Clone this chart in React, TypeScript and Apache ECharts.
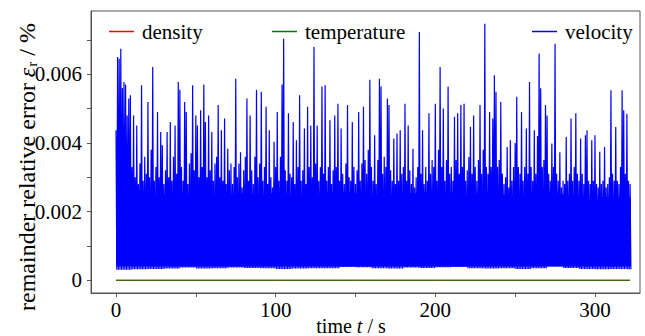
import React, { useEffect, useRef } from 'react';
import * as echarts from 'echarts';

// axis ticks / labels
const xTickValues = [0, 50, 100, 150, 200, 250, 300];
const xLabelValues = [0, 100, 200, 300];
const yTickValues = [0, 0.001, 0.002, 0.003, 0.004, 0.005, 0.006, 0.007];
const yLabelValues = [0, 0.002, 0.004, 0.006];

// velocity: per-second peak of the fluctuating signal, units of 1e-5 %
const velocityPeaks = [
  437, 650, 645, 674, 560, 577, 570, 480, 529, 539,
  330, 480, 300, 451, 280, 340, 568, 290, 360, 310,
  519, 300, 380, 621, 290, 330, 490, 300, 432, 393,
  280, 320, 432, 300, 461, 290, 360, 451, 310, 577,
  555, 330, 290, 519, 490, 280, 340, 370, 568, 320,
  480, 451, 300, 495, 330, 570, 461, 300, 480, 320,
  432, 290, 340, 360, 510, 300, 437, 290, 471, 280,
  383, 320, 340, 280, 330, 587, 300, 340, 373, 270,
  320, 360, 529, 290, 480, 320, 280, 360, 555, 300,
  340, 549, 290, 330, 505, 280, 437, 300, 270, 403,
  330, 490, 290, 360, 570, 703, 320, 290, 486, 310,
  300, 461, 280, 408, 330, 539, 290, 320, 442, 280,
  505, 330, 451, 300, 679, 340, 451, 290, 330, 564,
  310, 568, 290, 330, 466, 280, 320, 480, 330, 514,
  290, 442, 310, 280, 340, 510, 300, 290, 461, 330,
  280, 320, 490, 290, 340, 505, 350, 310, 380, 584,
  330, 290, 422, 280, 350, 587, 564, 310, 360, 330,
  529, 510, 320, 290, 413, 280, 427, 290, 437, 310,
  330, 514, 290, 451, 320, 280, 383, 270, 300, 330,
  723, 310, 437, 280, 330, 290, 486, 310, 350, 330,
  514, 290, 380, 621, 330, 500, 290, 350, 564, 310,
  330, 290, 476, 350, 486, 310, 510, 330, 514, 290,
  320, 359, 447, 310, 480, 330, 290, 350, 510, 310,
  380, 747, 330, 310, 490, 330, 471, 597, 549, 330,
  350, 519, 310, 280, 300, 388, 270, 408, 290, 330,
  400, 534, 330, 310, 490, 290, 330, 442, 310, 577,
  330, 290, 437, 310, 420, 660, 559, 330, 350, 510,
  480, 310, 290, 398, 330, 689, 310, 290, 373, 270,
  290, 280, 417, 290, 310, 471, 290, 330, 486, 310,
  290, 413, 310, 280, 422, 437, 290, 280, 408, 290,
  422, 280, 270, 374, 280, 290, 388, 270, 280, 300,
  553, 310, 290, 446, 290, 280, 330, 553, 495, 310,
  485, 290, 280,
];

// velocity: lower envelope (troughs) every 10 s, units of 1e-5 %
const velocityTroughs = [
  31, 32, 33, 34, 37, 34, 35, 37, 36, 35,
  33, 34, 35, 35, 39, 38, 35, 34, 37, 36,
  38, 39, 35, 34, 35, 33, 35, 40, 36, 33,
  32, 33, 32,
];
// velocity: top of the solid (dense) band every 10 s, units of 1e-5 %
const envelopeTimes = [
  0, 10, 20, 30, 40, 50, 60, 70, 80, 90,
  100, 110, 120, 130, 140, 150, 160, 170, 180, 190,
  200, 210, 220, 230, 240, 250, 260, 270, 280, 290,
  300, 310, 322.5,
];
const velocityBandTop = [
  300, 270, 255, 250, 255, 250, 245, 250, 255, 250,
  255, 250, 250, 255, 260, 255, 250, 255, 250, 255,
  260, 255, 250, 255, 250, 245, 255, 260, 250, 245,
  240, 245, 240,
];
const bandBottom = 40; // units of 1e-5 %

// density and temperature errors (essentially zero), units of 1e-5 %
const smallTimes = [0, 50, 100, 150, 200, 250, 300, 322];
const densityValues = [0.05, 0.05, 0.06, 0.05, 0.05, 0.06, 0.05, 0.05];
const temperatureValues = [0.1, 0.12, 0.15, 0.2, 0.12, 0.15, 0.2, 0.12];

const SERIF = "'Liberation Serif', 'Times New Roman', Times, serif";
const AXIS_COLOR = '#555';
const BLUE = '#0000ff';

export default function App() {
  const ref = useRef<HTMLDivElement>(null);

  useEffect(() => {
    if (!ref.current) return;
    const chart = echarts.init(ref.current, undefined, { renderer: 'svg' });

    const velocityData: number[][] = [];
    velocityPeaks.forEach((p, i) => {
      const low = velocityTroughs[Math.min(Math.floor(i / 10), velocityTroughs.length - 1)];
      velocityData.push([i, p * 1e-5]);
      velocityData.push([i + 0.5, low * 1e-5]);
    });
    const bandData = envelopeTimes.map((t, i) => [t, velocityBandTop[i] * 1e-5]);
    const densityData = smallTimes.map((t, i) => [t, densityValues[i] * 1e-5]);
    const temperatureData = smallTimes.map((t, i) => [t, temperatureValues[i] * 1e-5]);

    const legendBase = {
      top: 16,
      icon: 'rect',
      itemWidth: 25,
      itemHeight: 1.5,
      textStyle: { fontFamily: SERIF, fontSize: 21, color: '#000', padding: [0, 0, 0, 3] },
      selectedMode: false,
    };

    chart.setOption({
      animation: false,
      backgroundColor: '#fff',
      textStyle: { fontFamily: SERIF },
      grid: {
        left: 91,
        top: 11,
        right: 5,
        bottom: 43,
        show: true,
        borderColor: AXIS_COLOR,
        borderWidth: 1,
        containLabel: false,
      },
      legend: [
        { ...legendBase, left: 104, data: ['density'] },
        { ...legendBase, left: 267, data: ['temperature'] },
        { ...legendBase, left: 527, data: ['velocity'] },
      ],
      xAxis: {
        type: 'value',
        min: -15.66,
        max: 328.2,
        axisLine: { show: true, onZero: false, lineStyle: { color: AXIS_COLOR, width: 1 } },
        axisTick: {
          show: true,
          inside: false,
          length: 4,
          lineStyle: { color: AXIS_COLOR },
          customValues: xTickValues,
        },
        axisLabel: {
          customValues: xLabelValues,
          margin: 6,
          fontFamily: SERIF,
          fontSize: 21,
          color: '#000',
          formatter: (v: number) => '{n|' + String(Math.round(v)) + '}',
          rich: { n: { fontFamily: SERIF, fontSize: 21, color: '#000' } },
        },
        splitLine: { show: false },
      },
      yAxis: {
        type: 'value',
        min: -0.00037,
        max: 0.00784,
        axisLine: { show: true, onZero: false, lineStyle: { color: AXIS_COLOR, width: 1 } },
        axisTick: {
          show: true,
          inside: false,
          length: 4,
          lineStyle: { color: AXIS_COLOR },
          customValues: yTickValues,
        },
        axisLabel: {
          customValues: yLabelValues,
          margin: 9,
          fontFamily: SERIF,
          fontSize: 21,
          color: '#000',
          formatter: (v: number) => '{n|' + (Math.abs(v) < 1e-12 ? '0' : v.toFixed(3)) + '}',
          rich: { n: { fontFamily: SERIF, fontSize: 21, color: '#000' } },
        },
        splitLine: { show: false },
      },
      series: [
        {
          name: 'velocityBand',
          type: 'line',
          data: bandData,
          showSymbol: false,
          symbol: 'none',
          lineStyle: { width: 0, opacity: 0 },
          areaStyle: { color: BLUE, opacity: 1, origin: bandBottom * 1e-5 },
          silent: true,
          z: 1,
        },
        {
          name: 'density',
          type: 'line',
          data: densityData,
          showSymbol: false,
          symbol: 'none',
          color: '#ff0000',
          lineStyle: { color: '#ff0000', width: 1 },
        },
        {
          name: 'temperature',
          type: 'line',
          data: temperatureData,
          showSymbol: false,
          symbol: 'none',
          color: '#007a00',
          lineStyle: { color: '#007a00', width: 1 },
        },
        {
          name: 'velocity',
          type: 'line',
          data: velocityData,
          showSymbol: false,
          symbol: 'none',
          color: BLUE,
          lineStyle: { color: BLUE, width: 1.2 },
        },
      ],
      graphic: [
        {
          type: 'text',
          x: 27,
          y: 167,
          rotation: Math.PI / 2,
          style: {
            text: '{a|remainder relative error }{e|ε}{s|r}{a| / %}',
            align: 'center',
            verticalAlign: 'middle',
            fill: '#000',
            fontFamily: SERIF,
            rich: {
              a: { fontFamily: SERIF, fontSize: 24, fill: '#000' },
              e: { fontFamily: SERIF, fontStyle: 'italic', fontSize: 24, fill: '#000' },
              s: { fontFamily: SERIF, fontSize: 15, fill: '#000', padding: [10, 0, 0, 1] },
            },
          },
        },
        {
          type: 'text',
          x: 351,
          y: 326,
          style: {
            text: '{a|time }{i|t}{a| / s}',
            align: 'center',
            verticalAlign: 'middle',
            fill: '#000',
            fontFamily: SERIF,
            rich: {
              a: { fontFamily: SERIF, fontSize: 20, fill: '#000' },
              i: { fontFamily: SERIF, fontStyle: 'italic', fontSize: 20, fill: '#000' },
            },
          },
        },
      ],
    });

    return () => chart.dispose();
  }, []);

  return (
    <div
      ref={ref}
      style={{ position: 'fixed', left: 0, top: 0, width: 645, height: 336 }}
    />
  );
}
